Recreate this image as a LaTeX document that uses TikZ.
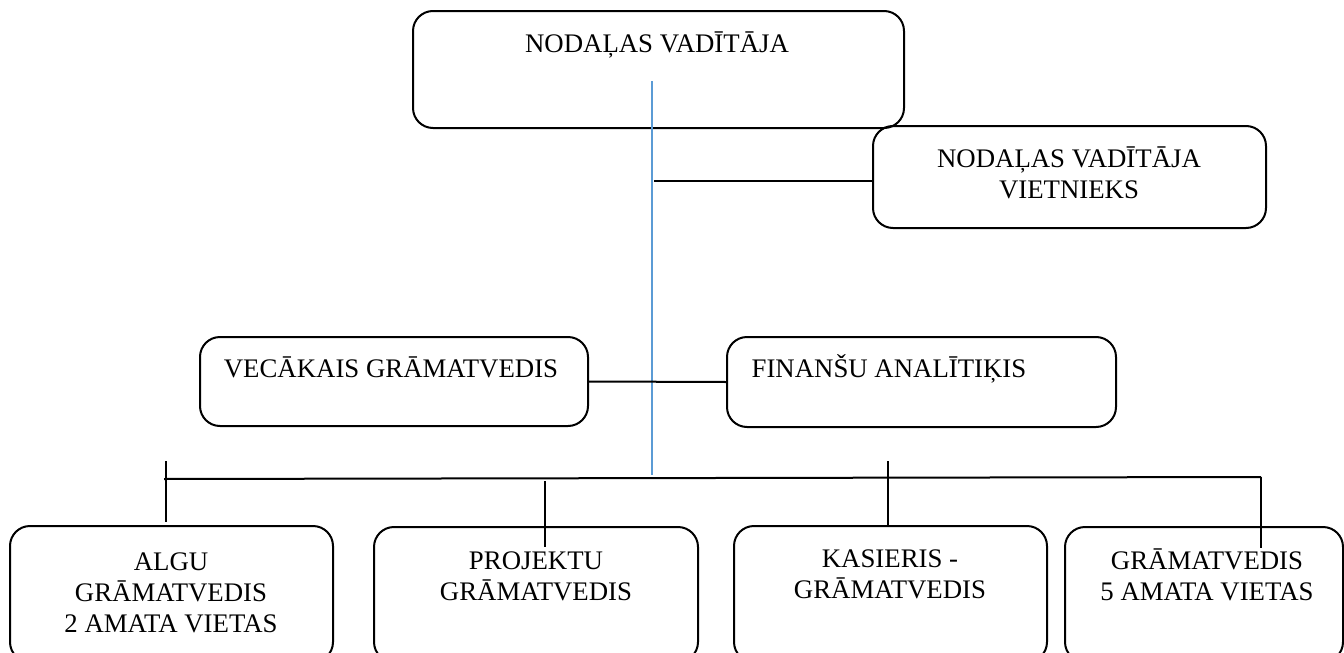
\documentclass[tikz,border=0pt]{standalone}
\usepackage{fontspec}
\setmainfont{Liberation Serif}
\usetikzlibrary{fit}
\tikzset{
  post/.style={draw, line width=1pt, rounded corners=10pt, inner sep=0pt},
  lbl/.style={anchor=base, align=center, inner sep=0pt, font=\fontsize{13.4}{15.5}\selectfont},
  link/.style={line width=1pt},
}
\begin{document}
\begin{tikzpicture}[x=0.5pt, y=-0.5pt]
\definecolor{trunk}{HTML}{5B9BD5}
\useasboundingbox (0,0) rectangle (1344,653);
\clip (0,0) rectangle (1344,653);
% boxes
\node[post, fit={(413,11) (904,128)}] (head) {};
\node[post, fit={(873,126) (1266,228)}] (dep) {};
\node[post, fit={(200,337) (588,426)}] (sen) {};
\node[post, fit={(727,337) (1116,427)}] (fin) {};
\node[post, fit={(10,526) (333,662)}] (b1) {};
\node[post, fit={(374,527) (698,662)}] (b2) {};
\node[post, fit={(734,526) (1047,662)}] (b3) {};
\node[post, fit={(1065,527) (1343,662)}] (b4) {};
% texts (base = last line)
\node[lbl] (headtxt) at (657,53) {NODAĻAS VADĪTĀJA};
\node[lbl] (deptxt) at (1069,198) {NODAĻAS VADĪTĀJA\\VIETNIEKS};
\node[lbl] (sentxt) at (391,377) {VECĀKAIS GRĀMATVEDIS};
\node[lbl] (fintxt) at (889,377) {FINANŠU ANALĪTIĶIS};
\node[lbl] (b1txt) at (171,632) {ALGU\\GRĀMATVEDIS\\2 AMATA VIETAS};
\node[lbl] (b2txt) at (536,600) {PROJEKTU\\GRĀMATVEDIS};
\node[lbl] (b3txt) at (890,598) {KASIERIS -\\GRĀMATVEDIS};
\node[lbl] (b4txt) at (1207,600) {GRĀMATVEDIS\\5 AMATA VIETAS};
% lines
\coordinate (trunktop) at (652,81);
\coordinate (trunkbot) at (652,475);
\coordinate (depjoin) at (654,181);
\coordinate (busL) at (164,479);
\coordinate (busR) at (1261,477);
\coordinate (t1a) at (166,461);
\coordinate (t1b) at (166,522);
\coordinate (t2a) at (545,481);
\coordinate (t2b) at (545,547);
\coordinate (t3a) at (888,461);
\coordinate (t3b) at (888,526);
\coordinate (t4b) at (1261,548);
\draw[trunk, line width=0.75pt] (trunktop) -- (trunkbot);
\draw[link] (depjoin) -- (depjoin -| dep.west);
\draw[link] (sen.east) -- (fin.west);
\draw[link] (busL) -- (busR);
\draw[link] (t1a) -- (t1b);
\draw[link] (t2a) -- (t2b);
\draw[link] (t3a) -- (t3b);
\draw[link] (busR) -- (t4b);
\end{tikzpicture}
\end{document}
